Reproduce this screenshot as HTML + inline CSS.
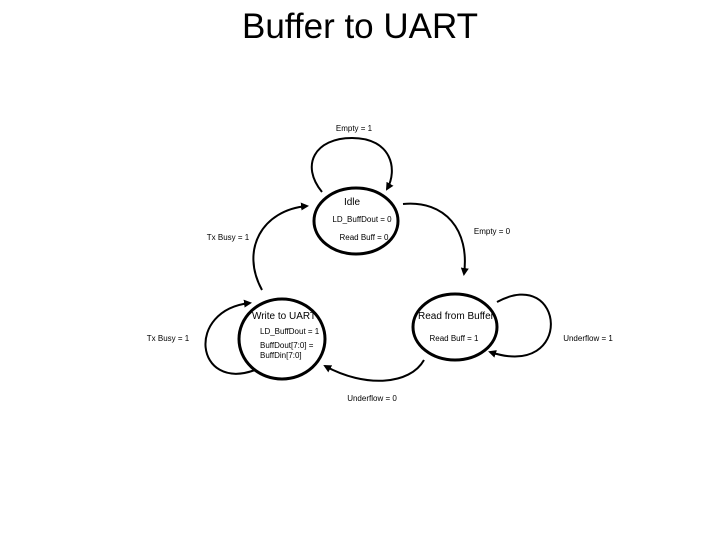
<!DOCTYPE html>
<html><head><meta charset="utf-8"><style>
html,body{margin:0;padding:0;background:#fff;width:720px;height:540px;overflow:hidden}
svg{display:block}
text{font-family:"Liberation Sans",sans-serif;fill:#000}
</style></head><body>
<svg width="720" height="540" viewBox="0 0 720 540">
<defs><marker id="a" markerWidth="8" markerHeight="8" refX="6" refY="4" orient="auto" markerUnits="userSpaceOnUse"><path d="M0,0 L8,4 L0,8 z" fill="#000"/></marker></defs>
<text x="360" y="38" font-size="35" text-anchor="middle">Buffer to UART</text>
<g fill="none" stroke="#000" stroke-width="3">
<ellipse cx="356" cy="221" rx="42" ry="33"/>
<ellipse cx="282" cy="339" rx="43" ry="40"/>
<ellipse cx="455" cy="327" rx="42" ry="33"/>
</g>
<g fill="none" stroke="#000" stroke-width="2" marker-end="url(#a)">
<path d="M322,192 C300,165 315,138 352,138 C392,138 398,170 387,189"/>
<path d="M403,204 C445,200 470,230 464,274"/>
<path d="M262,290 C240,250 262,210 307,206"/>
<path d="M255,370 C195,392 185,310 250,303"/>
<path d="M424,360 C410,385 365,388 325,366"/>
<path d="M497,302 C565,265 575,380 490,352"/>
</g>
<g font-size="8">
<text x="354" y="131" text-anchor="middle">Empty = 1</text>
<text x="362" y="222" text-anchor="middle">LD_BuffDout = 0</text>
<text x="364" y="240" text-anchor="middle">Read Buff = 0</text>
<text x="492" y="234" text-anchor="middle">Empty = 0</text>
<text x="228" y="240" text-anchor="middle">Tx Busy = 1</text>
<text x="168" y="341" text-anchor="middle">Tx Busy = 1</text>
<text x="260" y="334">LD_BuffDout = 1</text>
<text x="260" y="348">BuffDout[7:0] =</text>
<text x="260" y="358">BuffDin[7:0]</text>
<text x="454" y="341" text-anchor="middle">Read Buff = 1</text>
<text x="588" y="341" text-anchor="middle">Underflow = 1</text>
<text x="372" y="401" text-anchor="middle">Underflow = 0</text>
</g>
<g font-size="10">
<text x="352" y="205" text-anchor="middle">Idle</text>
<text x="284" y="319" text-anchor="middle">Write to UART</text>
<text x="456" y="319" text-anchor="middle">Read from Buffer</text>
</g>
</svg>
</body></html>
